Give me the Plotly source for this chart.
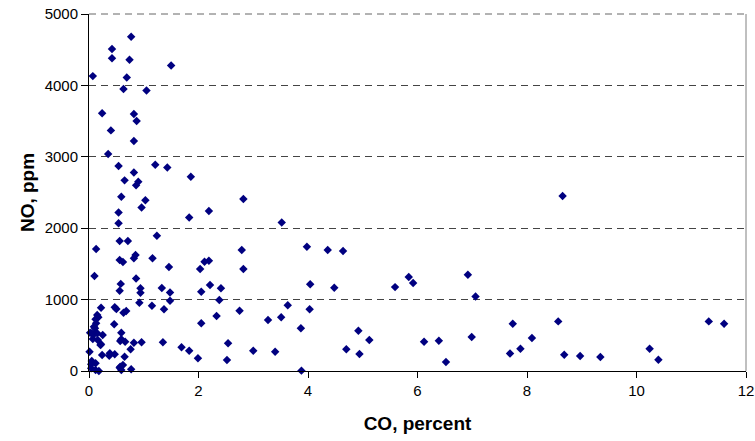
import plotly.graph_objects as go

# CO, percent (x) and NO, ppm (y)
co_top = [0.07, 0.42, 0.42, 0.77, 0.74, 0.69, 0.63, 1.05, 1.50, 0.24, 0.82, 0.87, 0.40,
          0.82, 0.35, 0.54, 1.21, 1.43, 0.82, 0.65, 0.90, 0.86, 0.59, 1.03, 0.96, 0.54,
          0.54, 1.86, 2.82, 2.19, 1.83, 3.52, 8.65]
no_top = [4130, 4510, 4380, 4680, 4360, 4110, 3950, 3930, 4280, 3610, 3600, 3500, 3370,
          3220, 3040, 2870, 2890, 2850, 2780, 2670, 2650, 2600, 2440, 2390, 2290, 2220,
          2070, 2720, 2410, 2240, 2150, 2080, 2450]

co_mid = [1.24, 0.13, 0.56, 0.71, 0.56, 0.62, 0.82, 0.85, 1.16, 1.46, 0.10, 0.86, 0.58,
          0.56, 0.94, 0.94, 1.33, 1.48, 2.79, 2.11, 2.19, 2.03, 2.82, 2.21, 2.05, 2.41,
          3.98, 4.36, 4.64, 4.04, 4.48, 5.59, 5.84, 5.92, 6.92, 7.06]
no_mid = [1895, 1710, 1820, 1820, 1555, 1527, 1578, 1625, 1578, 1457, 1330, 1295, 1220,
          1125, 1158, 1096, 1162, 1100, 1695, 1531, 1545, 1429, 1429, 1204, 1111, 1158,
          1741, 1695, 1681, 1214, 1167, 1175, 1317, 1232, 1349, 1043]

co_low = [0.92, 1.48, 2.38, 0.22, 0.47, 0.50, 0.63, 0.68, 1.15, 1.37, 0.15, 0.12, 0.13,
          0.09, 0.46, 0.02, 0.09, 0.15, 0.25, 0.07, 0.16, 0.59, 0.59, 0.66, 0.82, 0.96,
          1.35, 0.22, 0.01, 0.76, 0.24, 0.38, 0.47, 0.65, 0.05, 0.12, 0.62, 0.56, 0.59,
          0.77, 0.04, 0.12, 0.18, 2.75, 2.33, 2.05, 3.27, 1.69, 1.83, 1.99, 2.54, 2.52,
          3.00, 3.63, 4.03, 3.51, 3.87, 4.92, 5.12, 3.40, 4.70, 4.94, 3.88, 6.12, 6.39,
          6.52, 6.99, 7.74, 7.69, 7.88, 8.09, 8.57, 8.68, 8.97, 9.34, 10.24, 10.40, 11.32,
          11.60, 0.17, 0.11, 0.05, 0.21, 0.04, 0.57, 0.57, 0.37]
no_low = [957, 985, 994, 887, 892, 868, 817, 840, 915, 864, 784, 724, 668,
          620, 654, 536, 514, 528, 504, 448, 434, 536, 444, 410, 396, 402,
          402, 374, 270, 304, 224, 248, 234, 200, 140, 108, 84, 46, 14,
          24, 38, 14, 0, 845, 770, 668, 714, 332, 284, 178, 388, 154,
          284, 920, 864, 752, 598, 565, 434, 271, 304, 238, 5, 410, 424,
          127, 476, 661, 246, 312, 462, 695, 227, 209, 195, 312, 157, 695,
          661, 752, 598, 528, 364, 94, 60, 420, 214]

co = co_top + co_mid + co_low
no = no_top + no_mid + no_low

x_ticks = [0, 2, 4, 6, 8, 10, 12]
y_ticks = [0, 1000, 2000, 3000, 4000, 5000]

fig = go.Figure(go.Scatter(
    x=co, y=no, mode="markers",
    marker=dict(symbol="diamond", size=6.5, color="#000080", line=dict(width=0)),
    cliponaxis=False, showlegend=False, hoverinfo="skip",
))

font = "Liberation Sans, Arial, sans-serif"
fig.update_layout(
    width=755, height=441,
    margin=dict(l=89, r=9, t=14, b=70),
    paper_bgcolor="white", plot_bgcolor="white",
    font=dict(family=font, size=15, color="black"),
    xaxis=dict(
        range=[0, 12], tickvals=x_ticks, ticktext=[str(v) for v in x_ticks],
        automargin=False,
        showgrid=False, zeroline=False, showline=True, linecolor="black", linewidth=1,
        ticks="outside", ticklen=6, tickcolor="black",
        title=dict(text="<b>CO, percent</b>", font=dict(size=19), standoff=18),
    ),
    yaxis=dict(
        range=[0, 5000], tickvals=y_ticks, ticktext=[str(v) for v in y_ticks],
        automargin=False,
        showgrid=True, gridcolor="#444444", griddash="7px,5px", gridwidth=1,
        zeroline=False, showline=True, linecolor="black", linewidth=1,
        ticks="outside", ticklen=7, tickcolor="black",
        title=dict(text="<b>NO, ppm</b>", font=dict(size=19), standoff=4),
    ),
    shapes=[
        dict(type="line", xref="paper", yref="paper", x0=1, x1=1, y0=0, y1=1,
             line=dict(color="#808080", width=1)),
        dict(type="line", xref="paper", yref="paper", x0=0, x1=1, y0=1, y1=1,
             line=dict(color="#666666", width=1, dash="7px,5px")),
    ],
)

fig.write_html("out.html", config={"displayModeBar": False},
               post_script="document.body.style.margin='0';document.body.style.overflow='hidden';")
